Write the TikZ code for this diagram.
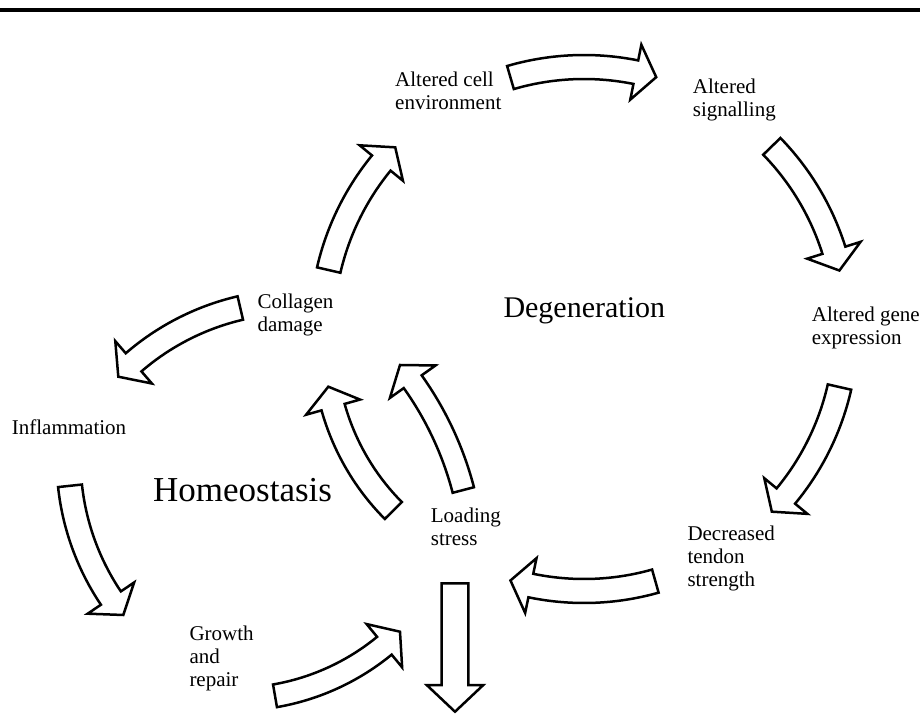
\documentclass[tikz,border=0pt]{standalone}
\usepackage{fontspec}
\setmainfont{Liberation Serif}
\tikzset{
  blockarrow/.style={draw=black, line width=2.5pt, fill=white, line join=miter, miter limit=10},
  lbl/.style={anchor=base west, inner sep=0pt, align=left, font=\fontsize{21}{23}\selectfont},
  biglbl/.style={anchor=base west, inner sep=0pt, font=\fontsize{35}{40}\selectfont},
  midlbl/.style={anchor=base west, inner sep=0pt, font=\fontsize{30}{34}\selectfont},
  toprule/.style={line width=3.5pt, draw=black}
}
\newcommand{\hdlen}{21}
% curved block arrow along a circle: cx cy R a1 a2 halfshaft halfhead
\newcommand{\arcarrow}[7]{%
  \pgfmathsetmacro{\bkS}{sign((#5)-(#4))}%
  \pgfmathsetmacro{\bkB}{(#5)-\bkS*\hdlen/(#3)*180/pi}%
  \draw[blockarrow] plot[domain=#4:\bkB,samples=40] ({#1+(#3+#6)*cos(\x)},{#2+(#3+#6)*sin(\x)})
    -- ({#1+(#3+#7)*cos(\bkB)},{#2+(#3+#7)*sin(\bkB)})
    -- ({#1+#3*cos(#5)},{#2+#3*sin(#5)})
    -- ({#1+(#3-#7)*cos(\bkB)},{#2+(#3-#7)*sin(\bkB)})
    -- plot[domain=\bkB:#4,samples=40] ({#1+(#3-#6)*cos(\x)},{#2+(#3-#6)*sin(\x)})
    -- cycle;
}
% curved block arrow from tail (Tx,Ty) to tip (Px,Py) with signed sagitta s
\newcommand{\tparrow}[7]{%
  \pgfmathsetmacro{\bkC}{veclen((#3)-(#1),(#4)-(#2))}%
  \pgfmathsetmacro{\bkNx}{-((#4)-(#2))/\bkC}%
  \pgfmathsetmacro{\bkNy}{((#3)-(#1))/\bkC}%
  \pgfmathsetmacro{\bkR}{((\bkC/2)*(\bkC/2)+(#5)*(#5))/(2*(#5))}%
  \pgfmathsetmacro{\bkX}{((#1)+(#3))/2+((#5)-\bkR)*\bkNx}%
  \pgfmathsetmacro{\bkY}{((#2)+(#4))/2+((#5)-\bkR)*\bkNy}%
  \pgfmathsetmacro{\bkAbs}{abs(\bkR)}%
  \pgfmathsetmacro{\bkA}{atan2((#2)-\bkY,(#1)-\bkX)}%
  \pgfmathsetmacro{\bkE}{\bkA-2*asin(\bkC/(2*\bkR))}%
  \arcarrow{\bkX}{\bkY}{\bkAbs}{\bkA}{\bkE}{#6}{#7}%
}
\begin{document}
\begin{tikzpicture}[x=1pt,y=-1pt]
\fill[white] (0,0) rectangle (920,720);
\useasboundingbox (0,0) rectangle (920,720);
\clip (0,0) rectangle (920,720);
\draw[toprule] (0,10) -- (920,10);

% labels (position = baseline of the last line)
\node[lbl] (ace) at (395,109) {Altered cell\\environment};
\node[lbl] (asig) at (692.7,116.7) {Altered\\signalling};
\node[lbl] (age) at (811.7,344) {Altered gene\\expression};
\node[lbl] (dts) at (687.3,586) {Decreased\\tendon\\strength};
\node[lbl] (ls) at (430.7,545) {Loading\\stress};
\node[lbl] (cd) at (257.3,331.5) {Collagen\\damage};
\node[lbl] (inf) at (11.7,434.3) {Inflammation};
\node[lbl] (gr) at (189.3,686) {Growth\\and\\repair};
\node[biglbl] (home) at (153,501.7) {Homeostasis};
\node[midlbl] (deg) at (503.3,317.3) {Degeneration};

% degeneration loop
\arcarrow{584}{329}{262}{-106.3}{-74}{12}{28}
\arcarrow{584}{329}{262}{-44.2}{-12.9}{12}{28}
\arcarrow{584}{329}{262}{12.8}{44.2}{12}{28}
\arcarrow{584}{329}{262}{74.2}{106.3}{12}{28}
\arcarrow{584}{329}{262}{193}{223.9}{12}{28}

% homeostasis loop
\tparrow{240.3}{308}{118.3}{376.7}{10}{12}{28}
\tparrow{70}{485.8}{123.3}{615}{10}{12}{28}
\tparrow{275}{695.8}{400}{631.7}{10.7}{11.5}{28}
\tparrow{393.3}{510.5}{328.3}{386.7}{-10.5}{12}{28}
\tparrow{463.3}{490}{400}{365}{7.5}{11}{28}

% straight arrow down
\draw[blockarrow] (441.7,583.3) -- (468.3,583.3) -- (468.3,685) -- (483.3,685)
  -- (455,711.7) -- (426.7,685) -- (441.7,685) -- cycle;
\end{tikzpicture}
\end{document}
